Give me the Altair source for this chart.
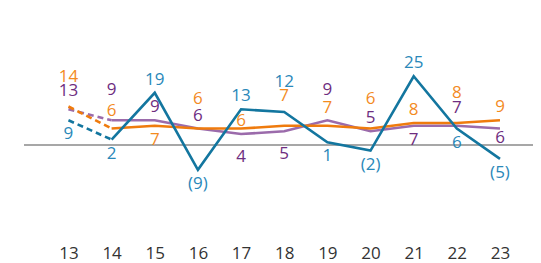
import altair as alt
import pandas as pd

ages = [13, 14, 15, 16, 17, 18, 19, 20, 21, 22, 23]
blue_vals = [9, 2, 19, -9, 13, 12, 1, -2, 25, 6, -5]
orange_vals = [14, 6, 7, 6, 6, 7, 7, 6, 8, 8, 9]
purple_vals = [13, 9, 9, 6, 4, 5, 9, 5, 7, 7, 6]

# label placement relative to the point (t = above, tt = well above, tm = mid above, b = below, bb = well below)
blue_place = ["b", "b", "t", "b", "t", "tt", "b", "b", "t", "b", "b"]
orange_place = ["tt", "tm", "b", "tt", "t0", "tt", "tm", "tt", "t", "tt", "t"]
purple_place = ["tm", "tt", "t", "t", "bb", "bb", "tt", "t", "b", "tm", "b0"]

place_dy = {"t": -13, "t0": -8, "tm": -18, "tt": -30, "b": 14, "b0": 9, "bb": 23}

series = [
    ("purple", purple_vals, purple_place, "#9b6bab", "#6e2d80"),
    ("orange", orange_vals, orange_place, "#ef7b0d", "#f38b1f"),
    ("blue", blue_vals, blue_place, "#13769f", "#2a88b9"),
]

rows = []
for name, vals, place, lc, tc in series:
    for a, v, p in zip(ages, vals, place):
        rows.append({
            "series": name, "age": a, "value": v,
            "label": f"({-v})" if v < 0 else str(v),
            "place": p,
        })
df = pd.DataFrame(rows)

FONT = "Open Sans"
FS = 17
YDOM = [-34.5, 49.8]
x = alt.X("age:Q", scale=alt.Scale(domain=[11.97, 23.765], nice=False, zero=False),
          axis=alt.Axis(values=ages, format="d", title=None, ticks=False, domain=False,
                        grid=False, labelPadding=5, labelFontSize=FS, labelColor="#333333",
                        labelFont=FONT))
y = alt.Y("value:Q", scale=alt.Scale(domain=YDOM, nice=False, zero=False),
          axis=alt.Axis(values=[0], title=None, ticks=False, domain=False, grid=False,
                        labelPadding=4, labelFontSize=FS, labelColor="#333333", labelFont=FONT))

base = alt.Chart(df)

zero_rule = alt.Chart(pd.DataFrame({"zero": [0]})).mark_rule(color="#8a8a8a", strokeWidth=1.5).encode(
    y=alt.Y("zero:Q", scale=alt.Scale(domain=YDOM, nice=False, zero=False), axis=None),
)

layers = [zero_rule]
for name, vals, place, lc, tc in series:
    s = base.transform_filter(alt.datum.series == name)
    dashed = s.transform_filter(alt.datum.age <= 14).mark_line(
        color=lc, strokeWidth=2.6, strokeDash=[6, 4]).encode(x=x, y=y)
    solid = s.transform_filter(alt.datum.age >= 14).mark_line(
        color=lc, strokeWidth=2.6).encode(x=x, y=y)
    layers += [dashed, solid]

for name, vals, place, lc, tc in series:
    for p in sorted(set(place)):
        s = base.transform_filter((alt.datum.series == name) & (alt.datum.place == p))
        txt = s.mark_text(font=FONT, fontSize=FS, baseline="middle", align="center",
                          color=tc, dy=place_dy[p]).encode(x=x, y=y, text="label:N")
        layers.append(txt)

chart = alt.layer(*layers).properties(
    width=509, height=232,
    autosize=alt.AutoSizeParams(type="none"),
    padding={"left": 16, "top": 0, "right": 0, "bottom": 22},
).configure(background="white").configure_view(strokeWidth=0)

chart.save("out.html", embed_options={"renderer": "svg", "actions": False})
